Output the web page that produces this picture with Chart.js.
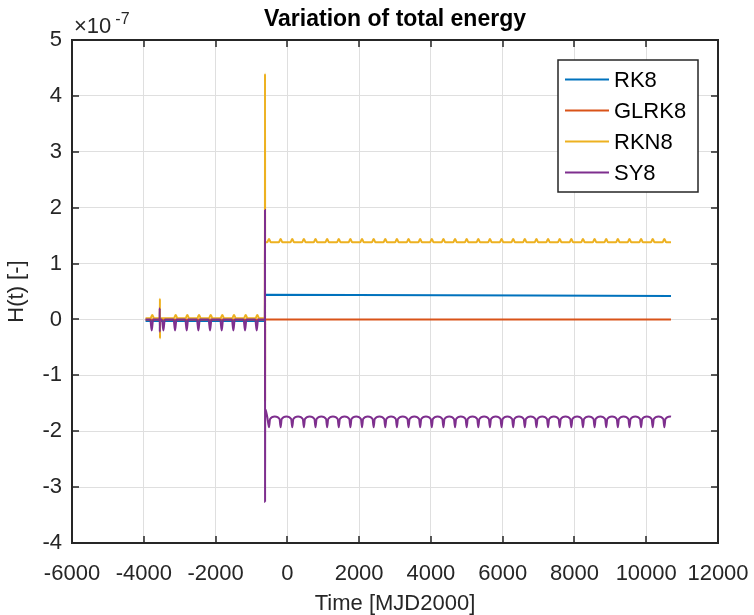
<!DOCTYPE html>
<html>
<head>
<meta charset="utf-8">
<script src="https://cdn.jsdelivr.net/npm/chart.js@4.4.1/dist/chart.umd.min.js"></script>
<style>
  html, body { margin: 0; padding: 0; background: #fff; }
  canvas { display: block; }
</style>
</head>
<body>
<canvas id="energy-chart" width="754" height="615"></canvas>
<script>
// values are in units of 1e-7 (see the x10^-7 label)
const chartTitle = 'Variation of total energy';
const seriesNames = ['RK8', 'GLRK8', 'RKN8', 'SY8'];

const rk8Time = [-3950, -625, -622, 10690];
const rk8Value = [-0.03, -0.03, 0.44, 0.42];

const glrk8Time = [-3950, -625, -622, -620, -618, 10690];
const glrk8Value = [0, 0, 1.7, -1.45, 0, 0];

const rkn8Time = [
  -3950,
  -3813, -3763, -3713,
  -3553, -3550, -3548, -3545,
  -3161, -3111, -3061,
  -2837, -2787, -2737,
  -2511, -2461, -2411,
  -2185, -2135, -2085,
  -1862, -1812, -1762,
  -1536, -1486, -1436,
  -1210, -1160, -1110,
  -887, -837, -787,
  -625, -622, -619,
  -561, -511, -461,
  -237, -187, -137,
  87, 137, 187,
  411, 461, 511,
  735, 785, 835,
  1059, 1109, 1159,
  1383, 1433, 1483,
  1707, 1757, 1807,
  2031, 2081, 2131,
  2355, 2405, 2455,
  2679, 2729, 2779,
  3003, 3053, 3103,
  3327, 3377, 3427,
  3651, 3701, 3751,
  3975, 4025, 4075,
  4299, 4349, 4399,
  4623, 4673, 4723,
  4947, 4997, 5047,
  5271, 5321, 5371,
  5595, 5645, 5695,
  5919, 5969, 6019,
  6243, 6293, 6343,
  6567, 6617, 6667,
  6891, 6941, 6991,
  7215, 7265, 7315,
  7539, 7589, 7639,
  7863, 7913, 7963,
  8187, 8237, 8287,
  8511, 8561, 8611,
  8835, 8885, 8935,
  9159, 9209, 9259,
  9483, 9533, 9583,
  9807, 9857, 9907,
  10131, 10181, 10231,
  10455, 10505, 10555,
  10690
];
const rkn8Value = [
  0.02,
  0.02, 0.08, 0.02,
  0.02, 0.37, -0.34, 0.02,
  0.02, 0.08, 0.02,
  0.02, 0.08, 0.02,
  0.02, 0.08, 0.02,
  0.02, 0.08, 0.02,
  0.02, 0.08, 0.02,
  0.02, 0.08, 0.02,
  0.02, 0.08, 0.02,
  0.02, 0.08, 0.02,
  0.02, 4.40, 1.38,
  1.38, 1.44, 1.38,
  1.38, 1.44, 1.38,
  1.38, 1.44, 1.38,
  1.38, 1.44, 1.38,
  1.38, 1.44, 1.38,
  1.38, 1.44, 1.38,
  1.38, 1.44, 1.38,
  1.38, 1.44, 1.38,
  1.38, 1.44, 1.38,
  1.38, 1.44, 1.38,
  1.38, 1.44, 1.38,
  1.38, 1.44, 1.38,
  1.38, 1.44, 1.38,
  1.38, 1.44, 1.38,
  1.38, 1.44, 1.38,
  1.38, 1.44, 1.38,
  1.38, 1.44, 1.38,
  1.38, 1.44, 1.38,
  1.38, 1.44, 1.38,
  1.38, 1.44, 1.38,
  1.38, 1.44, 1.38,
  1.38, 1.44, 1.38,
  1.38, 1.44, 1.38,
  1.38, 1.44, 1.38,
  1.38, 1.44, 1.38,
  1.38, 1.44, 1.38,
  1.38, 1.44, 1.38,
  1.38, 1.44, 1.38,
  1.38, 1.44, 1.38,
  1.38, 1.44, 1.38,
  1.38, 1.44, 1.38,
  1.38, 1.44, 1.38,
  1.38, 1.44, 1.38,
  1.38, 1.44, 1.38,
  1.38, 1.44, 1.38,
  1.38
];

const sy8Time = [
  -3950,
  -3819, -3779, -3739,
  -3560, -3557, -3554, -3551,
  -3494, -3454, -3414,
  -3169, -3129, -3089,
  -2844, -2804, -2764,
  -2519, -2479, -2439,
  -2194, -2154, -2114,
  -1869, -1829, -1789,
  -1544, -1504, -1464,
  -1219, -1179, -1139,
  -894, -854, -814,
  -625, -622, -620, -617, -560,
  -511, -481, -349, -217,
  -187, -157, -25, 107,
  137, 167, 299, 431,
  461, 491, 623, 755,
  785, 815, 947, 1079,
  1109, 1139, 1271, 1403,
  1433, 1463, 1595, 1727,
  1757, 1787, 1919, 2051,
  2081, 2111, 2243, 2375,
  2405, 2435, 2567, 2699,
  2729, 2759, 2891, 3023,
  3053, 3083, 3215, 3347,
  3377, 3407, 3539, 3671,
  3701, 3731, 3863, 3995,
  4025, 4055, 4187, 4319,
  4349, 4379, 4511, 4643,
  4673, 4703, 4835, 4967,
  4997, 5027, 5159, 5291,
  5321, 5351, 5483, 5615,
  5645, 5675, 5807, 5939,
  5969, 5999, 6131, 6263,
  6293, 6323, 6455, 6587,
  6617, 6647, 6779, 6911,
  6941, 6971, 7103, 7235,
  7265, 7295, 7427, 7559,
  7589, 7619, 7751, 7883,
  7913, 7943, 8075, 8207,
  8237, 8267, 8399, 8531,
  8561, 8591, 8723, 8855,
  8885, 8915, 9047, 9179,
  9209, 9239, 9371, 9503,
  9533, 9563, 9695, 9827,
  9857, 9887, 10019, 10151,
  10181, 10211, 10343, 10475,
  10505, 10535, 10667, 10690
];
const sy8Value = [
  0,
  0, -0.2, 0,
  0, 0.2, -0.22, 0,
  0, -0.2, 0,
  0, -0.2, 0,
  0, -0.2, 0,
  0, -0.2, 0,
  0, -0.2, 0,
  0, -0.2, 0,
  0, -0.2, 0,
  0, -0.2, 0,
  0, -0.2, 0,
  0, 1.96, -3.26, -1.6, -1.74,
  -1.93, -1.78, -1.735, -1.78,
  -1.93, -1.78, -1.735, -1.78,
  -1.93, -1.78, -1.735, -1.78,
  -1.93, -1.78, -1.735, -1.78,
  -1.93, -1.78, -1.735, -1.78,
  -1.93, -1.78, -1.735, -1.78,
  -1.93, -1.78, -1.735, -1.78,
  -1.93, -1.78, -1.735, -1.78,
  -1.93, -1.78, -1.735, -1.78,
  -1.93, -1.78, -1.735, -1.78,
  -1.93, -1.78, -1.735, -1.78,
  -1.93, -1.78, -1.735, -1.78,
  -1.93, -1.78, -1.735, -1.78,
  -1.93, -1.78, -1.735, -1.78,
  -1.93, -1.78, -1.735, -1.78,
  -1.93, -1.78, -1.735, -1.78,
  -1.93, -1.78, -1.735, -1.78,
  -1.93, -1.78, -1.735, -1.78,
  -1.93, -1.78, -1.735, -1.78,
  -1.93, -1.78, -1.735, -1.78,
  -1.93, -1.78, -1.735, -1.78,
  -1.93, -1.78, -1.735, -1.78,
  -1.93, -1.78, -1.735, -1.78,
  -1.93, -1.78, -1.735, -1.78,
  -1.93, -1.78, -1.735, -1.78,
  -1.93, -1.78, -1.735, -1.78,
  -1.93, -1.78, -1.735, -1.78,
  -1.93, -1.78, -1.735, -1.78,
  -1.93, -1.78, -1.735, -1.78,
  -1.93, -1.78, -1.735, -1.78,
  -1.93, -1.78, -1.735, -1.78,
  -1.93, -1.78, -1.735, -1.78,
  -1.93, -1.78, -1.735, -1.78,
  -1.93, -1.78, -1.735, -1.78,
  -1.93, -1.78, -1.735, -1.74
];

const xTicks = [-6000, -4000, -2000, 0, 2000, 4000, 6000, 8000, 10000, 12000];
const yTicks = [-4, -3, -2, -1, 0, 1, 2, 3, 4, 5];

const blue = '#0072BD';   // matlab default colours
const red = '#D95319';
const yellow = '#EDB120';
const purple = '#7E2F8E';
const axisColor = '#262626';
const fontFamily = '"Liberation Sans", Arial, Helvetica, sans-serif';

function toPoints(times, values) {
  return times.map((t, i) => ({ x: t, y: values[i] }));
}

// title over the axes, box with inward ticks, x10^-7 label, legend inside the axes
const matlabBox = {
  id: 'matlabBox',
  afterDraw(chart) {
    const { ctx, chartArea: a, scales } = chart;
    const x = scales.x, y = scales.y;
    ctx.save();
    ctx.strokeStyle = axisColor;
    ctx.lineWidth = 1.5;
    ctx.beginPath();
    xTicks.forEach(v => {
      const px = Math.round(x.getPixelForValue(v));
      ctx.moveTo(px, a.bottom); ctx.lineTo(px, a.bottom - 7);
      ctx.moveTo(px, a.top); ctx.lineTo(px, a.top + 7);
    });
    yTicks.forEach(v => {
      const py = Math.round(y.getPixelForValue(v));
      ctx.moveTo(a.left, py); ctx.lineTo(a.left + 7, py);
      ctx.moveTo(a.right, py); ctx.lineTo(a.right - 7, py);
    });
    ctx.stroke();
    ctx.lineWidth = 2;
    ctx.strokeRect(a.left, a.top, a.right - a.left, a.bottom - a.top);

    // title, centred on the axes like matlab does
    ctx.fillStyle = '#000';
    ctx.textAlign = 'center';
    ctx.textBaseline = 'middle';
    ctx.font = 'bold 23px ' + fontFamily;
    ctx.fillText(chartTitle, (a.left + a.right) / 2, 20);

    // exponent
    ctx.fillStyle = axisColor;
    ctx.textAlign = 'left';
    ctx.textBaseline = 'alphabetic';
    ctx.font = '22px ' + fontFamily;
    ctx.fillText('\u00d710', a.left + 2, a.top - 7);
    const w = ctx.measureText('\u00d710').width;
    ctx.font = '16px ' + fontFamily;
    ctx.fillText('-7', a.left + 6 + w, a.top - 16);

    // legend
    const lx = 558, ly = 60, lw = 140, lh = 132;
    ctx.fillStyle = '#fff';
    ctx.fillRect(lx, ly, lw, lh);
    ctx.lineWidth = 1.5;
    ctx.strokeStyle = axisColor;
    ctx.strokeRect(lx, ly, lw, lh);
    ctx.font = '22px ' + fontFamily;
    ctx.textBaseline = 'middle';
    chart.data.datasets.forEach((ds, i) => {
      const ry = ly + 19.5 + i * 31;
      ctx.strokeStyle = ds.borderColor;
      ctx.lineWidth = 2;
      ctx.beginPath();
      ctx.moveTo(lx + 7, ry); ctx.lineTo(lx + 51, ry);
      ctx.stroke();
      ctx.fillStyle = '#000';
      ctx.fillText(ds.label, lx + 56, ry + 1);
    });
    ctx.restore();
  }
};

const ctx = document.getElementById('energy-chart').getContext('2d');
const chart = new Chart(ctx, {
  type: 'line',
  data: {
    datasets: [{
      label: seriesNames[0],
      data: toPoints(rk8Time, rk8Value),
      borderColor: blue,
      order: 3,
    },
    {
      label: seriesNames[1],
      data: toPoints(glrk8Time, glrk8Value),
      borderColor: red,
      order: 2,
    },
    {
      label: seriesNames[2],
      data: toPoints(rkn8Time, rkn8Value),
      borderColor: yellow,
      order: 1,
    },
    {
      label: seriesNames[3],
      data: toPoints(sy8Time, sy8Value),
      borderColor: purple,
      order: 0,
    }]
  },
  options: {
    responsive: false,
    animation: false,
    events: [],
    layout: { padding: { left: 0, right: 36, top: 40, bottom: 0 } },
    elements: {
      point: { radius: 0 },
      line: { borderWidth: 2, cubicInterpolationMode: 'monotone', fill: false }
    },
    scales: {
      x: {
        type: 'linear',
        min: -6000,
        max: 12000,
        afterBuildTicks: scale => { scale.ticks = xTicks.map(v => ({ value: v })); },
        afterFit: scale => {
          scale.height = 72;
          scale.paddingLeft = 0;
          scale.paddingRight = 0;
        },
        border: { display: false },
        grid: { color: '#dfdfdf', lineWidth: 1, drawTicks: false },
        ticks: {
          padding: 18,
          color: axisColor,
          font: { family: fontFamily, size: 22 },
          maxRotation: 0,
          autoSkip: false,
          callback: v => String(v)
        },
        title: {
          display: true,
          text: 'Time [MJD2000]',
          color: axisColor,
          font: { family: fontFamily, size: 22, lineHeight: 1 },
          padding: { top: 0, bottom: 0 }
        }
      },
      y: {
        type: 'linear',
        min: -4,
        max: 5,
        afterBuildTicks: scale => { scale.ticks = yTicks.map(v => ({ value: v })); },
        afterFit: scale => {
          scale.width = 72;
          scale.paddingTop = 0;
          scale.paddingBottom = 0;
        },
        border: { display: false },
        grid: { color: '#dfdfdf', lineWidth: 1, drawTicks: false },
        ticks: {
          padding: 10,
          color: axisColor,
          font: { family: fontFamily, size: 22 },
          callback: v => String(v)
        },
        title: {
          display: true,
          text: 'H(t) [-]',
          color: axisColor,
          font: { family: fontFamily, size: 22 },
          padding: { top: 4, bottom: 0 }
        }
      }
    },
    plugins: {
      legend: { display: false },
      tooltip: { enabled: false },
      title: { display: false }
    }
  },
  plugins: [matlabBox]
});
</script>
</body>
</html>
